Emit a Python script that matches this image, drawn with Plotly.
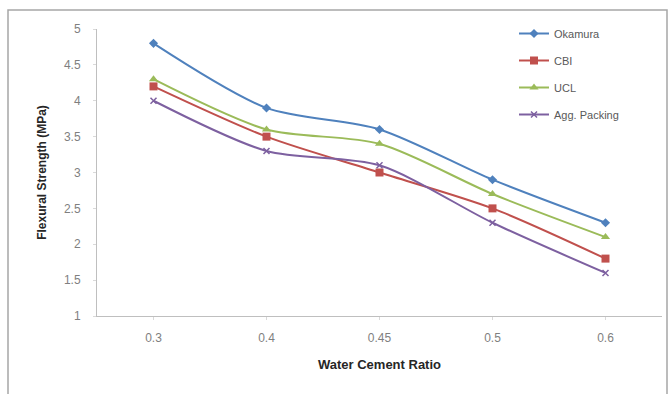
import plotly.graph_objects as go

categories = ["0.3", "0.4", "0.45", "0.5", "0.6"]
okamura = [4.8, 3.9, 3.6, 2.9, 2.3]
cbi = [4.2, 3.5, 3.0, 2.5, 1.8]
ucl = [4.3, 3.6, 3.4, 2.7, 2.1]
agg_packing = [4.0, 3.3, 3.1, 2.3, 1.6]
y_ticks = [1, 1.5, 2, 2.5, 3, 3.5, 4, 4.5, 5]

W, H = 671, 394
L, R, T, B = 97, 9, 29, 78
pw, ph = W - L - R, H - T - B

def px(x):
    return (x - L) / pw

def py(y):
    return (H - B - y) / ph

series = [
    ("Okamura", okamura, "#4F81BD", dict(symbol="diamond", size=7)),
    ("CBI", cbi, "#C0504D", dict(symbol="square", size=8)),
    ("UCL", ucl, "#9BBB59", dict(symbol="triangle-up", size=8)),
    ("Agg. Packing", agg_packing, "#7D60A0", dict(symbol="x-thin", size=6, line=dict(width=1.5, color="#7D60A0"))),
]

fig = go.Figure()
for i, (name, vals, color, mk) in enumerate(series):
    fig.add_trace(go.Scatter(
        x=categories, y=vals, name=name, mode="lines+markers",
        line=dict(color=color, width=2, shape="spline", smoothing=0.8),
        marker=dict(color=color, **mk),
        legendgroup=f"g{i}",
    ))

fig.update_layout(
    width=W, height=H,
    margin=dict(l=L, r=R, t=T, b=B),
    paper_bgcolor="white", plot_bgcolor="white",
    font=dict(family="Liberation Sans, Arial, sans-serif", size=12, color="#7F7F7F"),
    showlegend=True,
    legend=dict(
        x=px(514), y=py(19), xanchor="left", yanchor="top",
        bgcolor="rgba(0,0,0,0)", tracegroupgap=8,
        font=dict(size=11, color="#595959"),
        itemwidth=30,
    ),
    xaxis=dict(
        type="category", range=[-0.5, 4.5],
        showgrid=False, showline=True, linecolor="#BFBFBF", linewidth=1,
        ticks="outside", ticklen=3, tickcolor="#D9D9D9",
        ticklabelstandoff=8,
        tickfont=dict(size=12, color="#7F7F7F"),
        title=dict(text="<b>Water Cement Ratio</b>", font=dict(size=13, color="#262626"), standoff=15),
        zeroline=False,
    ),
    yaxis=dict(
        range=[1, 5], tickvals=y_ticks, ticktext=[f"{v:g}" for v in y_ticks],
        showgrid=False, showline=True, linecolor="#BFBFBF", linewidth=1,
        ticks="outside", ticklen=3, tickcolor="#D9D9D9",
        ticklabelstandoff=10,
        tickfont=dict(size=12, color="#7F7F7F"),
        title=dict(text="<b>Flexural Strength (MPa)</b>", font=dict(size=12, color="#262626"), standoff=14),
        zeroline=False,
    ),
    shapes=[dict(
        type="rect", xref="paper", yref="paper",
        x0=px(8), x1=px(667), y0=py(400), y1=py(10),
        line=dict(color="#A6A6A6", width=1.5), fillcolor="rgba(0,0,0,0)",
        layer="below",
    )],
)

fig.write_html("out.html")
